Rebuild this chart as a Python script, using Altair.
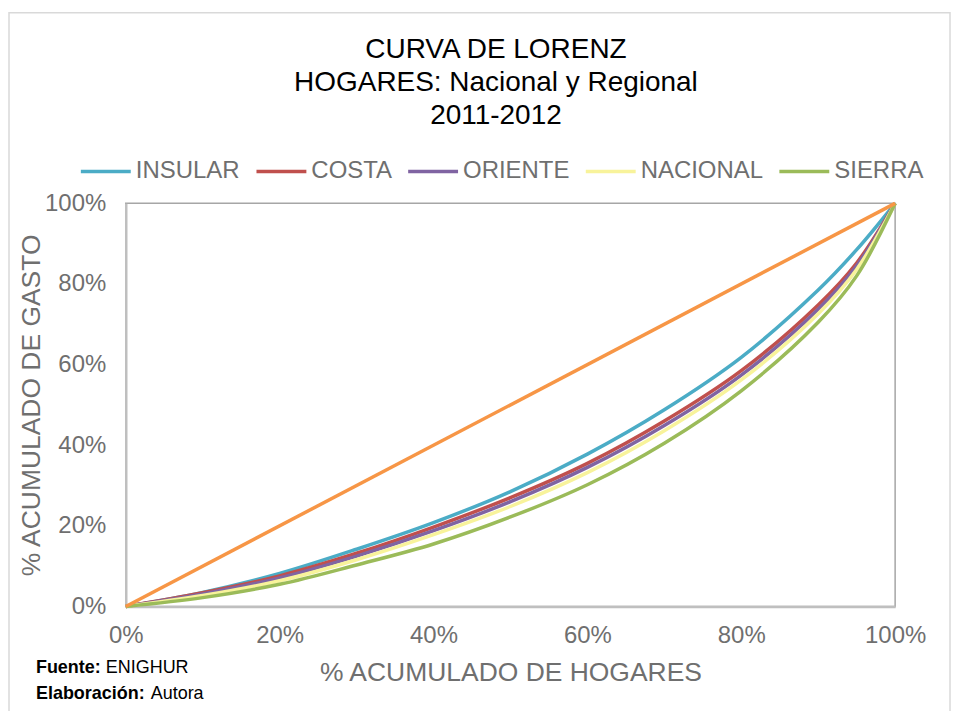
import altair as alt
import pandas as pd

# % acumulado de hogares (x) and % acumulado de gasto (y) per region
hogares = [0, 0.1, 0.2, 0.3, 0.4, 0.5, 0.6, 0.7, 0.8, 0.9, 0.95, 1.0]
insular = [0, 0.035, 0.082, 0.142, 0.208, 0.285, 0.378, 0.488, 0.618, 0.785, 0.885, 1.0]
costa = [0, 0.034, 0.076, 0.132, 0.197, 0.270, 0.355, 0.460, 0.585, 0.748, 0.852, 1.0]
oriente = [0, 0.031, 0.071, 0.125, 0.188, 0.260, 0.345, 0.449, 0.574, 0.737, 0.845, 1.0]
nacional = [0, 0.027, 0.064, 0.116, 0.178, 0.248, 0.332, 0.436, 0.562, 0.726, 0.836, 1.0]
sierra = [0, 0.022, 0.055, 0.103, 0.155, 0.222, 0.302, 0.405, 0.535, 0.705, 0.820, 1.0]

regiones = ["INSULAR", "COSTA", "ORIENTE", "NACIONAL", "SIERRA"]
colores = ["#4BACC6", "#C0504D", "#8064A2", "#F8F39B", "#9BBB59"]

# line of perfect equality
igualdad_x = [0, 1]
igualdad_y = [0, 1]

x_ticks = [0, 0.2, 0.4, 0.6, 0.8, 1.0]
y_ticks = [0, 0.2, 0.4, 0.6, 0.8, 1.0]

titulo = ["CURVA DE LORENZ", "HOGARES: Nacional y Regional", "2011-2012"]

series = {"INSULAR": insular, "COSTA": costa, "ORIENTE": oriente,
          "NACIONAL": nacional, "SIERRA": sierra}
rows = []
for r in regiones:
    for h, g in zip(hogares, series[r]):
        rows.append({"region": r, "hogares": h, "gasto": g})
df = pd.DataFrame(rows)
df_eq = pd.DataFrame({"hogares": igualdad_x, "gasto": igualdad_y})

FONT = "Liberation Sans"
GRAY = "#6F6F6F"

x_enc = alt.X("hogares:Q", scale=alt.Scale(domain=[0, 1], nice=False),
              axis=alt.Axis(format=".0%", values=x_ticks, title="% ACUMULADO DE HOGARES",
                            titleY=66, titleBaseline="middle", labelPadding=17,
                            labelFlush=False))
y_enc = alt.Y("gasto:Q", scale=alt.Scale(domain=[0, 1], nice=False),
              axis=alt.Axis(format=".0%", values=y_ticks, title="% ACUMULADO DE GASTO",
                            titleX=-94, titleBaseline="middle", labelPadding=20,
                            labelFlush=False))

frame = alt.Chart(pd.DataFrame({"a": [0]})).mark_rect(
    fill="white", fillOpacity=0, stroke="#D9D9D9", strokeWidth=1.5
).encode(x=alt.value(-117), x2=alt.value(826), y=alt.value(-191), y2=alt.value(530))

title_layers = []
for i, t in enumerate(titulo):
    title_layers.append(
        alt.Chart(pd.DataFrame({"t": [t]})).mark_text(
            align="center", baseline="middle", fontSize=28, font=FONT, color="black"
        ).encode(text="t:N", x=alt.value(371), y=alt.value(-154 + 33.5 * i))
    )

lines = alt.Chart(df).mark_line(interpolate="catmull-rom", strokeWidth=3.5).encode(
    x=x_enc,
    y=y_enc,
    color=alt.Color("region:N", sort=regiones,
                    scale=alt.Scale(domain=regiones, range=colores),
                    legend=alt.Legend(orient="none", legendX=-47, legendY=-59,
                                      direction="horizontal", title=None,
                                      symbolType="stroke", symbolSize=2500,
                                      symbolStrokeWidth=3.5, labelFontSize=24,
                                      labelColor=GRAY, labelFont=FONT,
                                      labelOffset=3, columnPadding=9)),
)

equal = alt.Chart(df_eq).mark_line(color="#F79646", strokeWidth=3.5).encode(
    x=alt.X("hogares:Q"), y=alt.Y("gasto:Q")
)

fuente_b = alt.Chart(pd.DataFrame({"t": ["Fuente:"]})).mark_text(
    align="left", baseline="middle", fontSize=18, fontWeight="bold", font=FONT, color="black"
).encode(text="t:N", x=alt.value(-90), y=alt.value(466))
fuente_r = alt.Chart(pd.DataFrame({"t": ["ENIGHUR"]})).mark_text(
    align="left", baseline="middle", fontSize=18, font=FONT, color="black"
).encode(text="t:N", x=alt.value(-20), y=alt.value(466))
elab_b = alt.Chart(pd.DataFrame({"t": ["Elaboración:"]})).mark_text(
    align="left", baseline="middle", fontSize=18, fontWeight="bold", font=FONT, color="black"
).encode(text="t:N", x=alt.value(-90), y=alt.value(492))
elab_r = alt.Chart(pd.DataFrame({"t": ["Autora"]})).mark_text(
    align="left", baseline="middle", fontSize=18, font=FONT, color="black"
).encode(text="t:N", x=alt.value(25), y=alt.value(492))

chart = alt.layer(frame, *title_layers, lines, equal, fuente_b, fuente_r, elab_b, elab_r).properties(
    width=771,
    height=404,
    autosize=alt.AutoSizeParams(type="none"),
    padding={"left": 118, "top": 195, "right": 62, "bottom": 104},
).configure_view(
    stroke="#A6A6A6", strokeWidth=1.5
).configure_axis(
    grid=False, ticks=False, domainColor="#BFBFBF", domainWidth=2.5,
    labelFont=FONT, labelFontSize=24, labelColor=GRAY,
    titleFont=FONT, titleFontSize=26.5, titleFontWeight="normal", titleColor=GRAY,
)

chart.save("out.html", embed_options={"renderer": "svg", "actions": False})
